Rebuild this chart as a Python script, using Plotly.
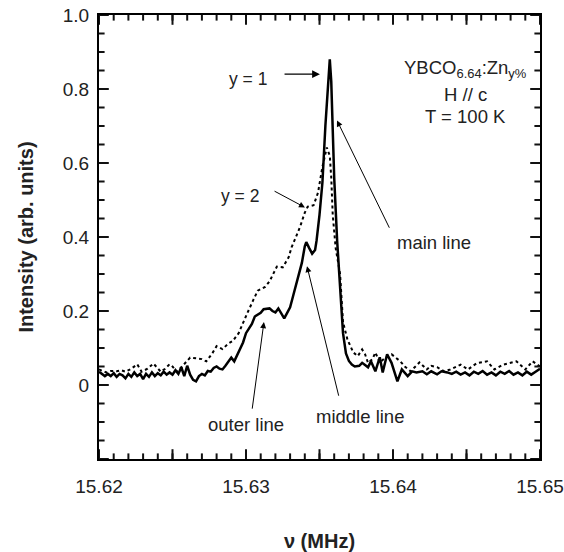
import plotly.graph_objects as go

# ---- data ----
freq_y1 = [15.6200, 15.6202, 15.6204, 15.6206, 15.6208, 15.6210, 15.6212, 15.6214, 15.6216, 15.6218,
           15.6220, 15.6222, 15.6224, 15.6226, 15.6228, 15.6230, 15.6232, 15.6234, 15.6236, 15.6238,
           15.6240, 15.6242, 15.6244, 15.6246, 15.6248, 15.6250, 15.6252, 15.6254, 15.6256, 15.6258,
           15.6260, 15.6262, 15.6264, 15.6266, 15.6268, 15.6270, 15.6272, 15.6274, 15.6276, 15.6278,
           15.6280, 15.6282, 15.6284, 15.6286, 15.6288, 15.6290, 15.6292, 15.6294, 15.6296, 15.6298,
           15.6300, 15.6302, 15.6304, 15.6306, 15.6308, 15.6310, 15.6312, 15.6314, 15.6316, 15.6318,
           15.6320, 15.6322, 15.6324, 15.6326, 15.6328, 15.6330, 15.6332, 15.6334, 15.6336, 15.6338,
           15.6340, 15.6341, 15.6343, 15.6345, 15.6347, 15.6348, 15.6350, 15.6352, 15.6354, 15.6356,
           15.6357, 15.6358, 15.6359, 15.6360, 15.6362, 15.6364, 15.6366, 15.6368, 15.6370, 15.6372,
           15.6374, 15.6377, 15.6379, 15.6381, 15.6383, 15.6385, 15.6388, 15.6391, 15.6393, 15.6396,
           15.6399, 15.6403, 15.6406, 15.6410, 15.6413, 15.6416, 15.6420, 15.6423, 15.6426, 15.6430,
           15.6433, 15.6437, 15.6440, 15.6443, 15.6446, 15.6449, 15.6452, 15.6455, 15.6458, 15.6461,
           15.6464, 15.6467, 15.6470, 15.6473, 15.6476, 15.6479, 15.6482, 15.6485, 15.6488, 15.6491,
           15.6494, 15.6497, 15.6500]
int_y1 = [0.036, 0.030, 0.024, 0.030, 0.024, 0.032, 0.022, 0.030, 0.026, 0.018,
          0.030, 0.022, 0.034, 0.024, 0.030, 0.016, 0.030, 0.022, 0.034, 0.024,
          0.032, 0.026, 0.036, 0.028, 0.034, 0.028, 0.040, 0.030, 0.048, 0.024,
          0.052, 0.028, 0.014, 0.010, 0.024, 0.030, 0.026, 0.038, 0.036, 0.046,
          0.050, 0.044, 0.042, 0.052, 0.062, 0.074, 0.064, 0.082, 0.100, 0.115,
          0.140, 0.152, 0.165, 0.185, 0.190, 0.195, 0.205, 0.207, 0.207, 0.200,
          0.196, 0.207, 0.195, 0.180, 0.195, 0.210, 0.240, 0.270, 0.294, 0.330,
          0.375, 0.386, 0.370, 0.355, 0.365, 0.390, 0.460, 0.548, 0.700, 0.830,
          0.880, 0.820, 0.660, 0.560, 0.390, 0.259, 0.140, 0.085, 0.065, 0.055,
          0.050, 0.052, 0.060, 0.054, 0.048, 0.064, 0.037, 0.075, 0.034, 0.083,
          0.060, 0.010, 0.042, 0.024, 0.037, 0.034, 0.037, 0.029, 0.037, 0.029,
          0.037, 0.034, 0.030, 0.036, 0.028, 0.034, 0.026, 0.036, 0.030, 0.038,
          0.028, 0.034, 0.026, 0.036, 0.030, 0.038, 0.028, 0.034, 0.026, 0.036,
          0.028, 0.036, 0.044]

freq_y2 = [15.6200, 15.6205, 15.6208, 15.6212, 15.6215, 15.6218, 15.6222, 15.6226, 15.6229, 15.6233,
           15.6237, 15.6242, 15.6245, 15.6248, 15.6250, 15.6253, 15.6256, 15.6259, 15.6262, 15.6266,
           15.6270, 15.6273, 15.6277, 15.6280, 15.6284, 15.6288, 15.6291, 15.6295, 15.6298, 15.6301,
           15.6305, 15.6308, 15.6313, 15.6316, 15.6321, 15.6325, 15.6329, 15.6331, 15.6335, 15.6337,
           15.6340, 15.6342, 15.6346, 15.6349, 15.6352, 15.6355, 15.6356, 15.6357, 15.6358, 15.6359,
           15.6361, 15.6363, 15.6364, 15.6366, 15.6369, 15.6373, 15.6376, 15.6379, 15.6381, 15.6383,
           15.6386, 15.6388, 15.6391, 15.6395, 15.6399, 15.6405, 15.6408, 15.6412, 15.6418, 15.6423,
           15.6426, 15.6430, 15.6435, 15.6439, 15.6446, 15.6451, 15.6457, 15.6464, 15.6469, 15.6475,
           15.6484, 15.6490, 15.6495, 15.6500]
int_y2 = [0.042, 0.034, 0.038, 0.037, 0.040, 0.036, 0.044, 0.056, 0.036, 0.044,
          0.058, 0.036, 0.044, 0.056, 0.050, 0.036, 0.048, 0.062, 0.074, 0.072,
          0.070, 0.064, 0.085, 0.105, 0.097, 0.112, 0.119, 0.140, 0.170, 0.195,
          0.230, 0.255, 0.265, 0.280, 0.320, 0.318, 0.345, 0.372, 0.410, 0.430,
          0.466, 0.482, 0.486, 0.520, 0.590, 0.642, 0.630, 0.620, 0.560, 0.460,
          0.370, 0.330, 0.300, 0.170, 0.123, 0.088, 0.078, 0.096, 0.083, 0.060,
          0.070, 0.088, 0.061, 0.075, 0.083, 0.064, 0.050, 0.037, 0.061, 0.042,
          0.052, 0.048, 0.037, 0.042, 0.055, 0.042, 0.059, 0.064, 0.042, 0.055,
          0.064, 0.042, 0.064, 0.050]

x_range = [15.62, 15.65]
y_range = [-0.2, 1.0]
x_tickvals = [15.62, 15.63, 15.64, 15.65]
x_ticktext = ["15.62", "15.63", "15.64", "15.65"]
y_tickvals = [0, 0.2, 0.4, 0.6, 0.8, 1.0]
y_ticktext = ["0", "0.2", "0.4", "0.6", "0.8", "1.0"]
# tick-mark positions (major / minor)
x_major_ticks = [15.62, 15.625, 15.63, 15.635, 15.64, 15.645, 15.65]
x_minor_ticks = [round(15.62 + 0.001 * i, 3) for i in range(31)]
y_major_ticks = [-0.2, 0.0, 0.2, 0.4, 0.6, 0.8, 1.0]
y_minor_ticks = [round(-0.2 + 0.05 * i, 2) for i in range(25)]

FONT = "Arial, Liberation Sans, sans-serif"
TXT = "#222"

fig = go.Figure()
fig.add_trace(go.Scatter(x=freq_y2, y=int_y2, mode="lines",
                         line=dict(color="black", width=2, dash="dot"), showlegend=False))
fig.add_trace(go.Scatter(x=freq_y1, y=int_y1, mode="lines",
                         line=dict(color="black", width=2.5), showlegend=False))

# inward tick marks on all four sides (line markers centred on the frame, clipped to the plot area)
def tick_marks(xs, ys, symbol, size):
    fig.add_trace(go.Scatter(x=xs, y=ys, mode="markers", showlegend=False, hoverinfo="skip",
                             cliponaxis=True,
                             marker=dict(symbol=symbol, size=size, color="#111",
                                         line=dict(color="#111", width=2))))

for yy in y_range:
    tick_marks(x_minor_ticks, [yy] * len(x_minor_ticks), "line-ns", 8)
    tick_marks(x_major_ticks, [yy] * len(x_major_ticks), "line-ns", 14)
for xx in x_range:
    tick_marks([xx] * len(y_minor_ticks), y_minor_ticks, "line-ew", 8)
    tick_marks([xx] * len(y_major_ticks), y_major_ticks, "line-ew", 14)

fig.update_layout(
    xaxis=dict(range=x_range, tickmode="array", tickvals=x_tickvals, ticktext=x_ticktext,
               showgrid=False, zeroline=False,
               ticks="outside", ticklen=9, tickcolor="rgba(0,0,0,0)",
               showline=True, linecolor="black", linewidth=2, mirror=True,
               tickfont=dict(family=FONT, size=19, color=TXT),
               automargin=False,
               title=dict(text="ν (MHz)", font=dict(family=FONT, size=20, color=TXT, weight="bold"), standoff=40)),
    yaxis=dict(range=y_range, tickmode="array", tickvals=y_tickvals, ticktext=y_ticktext,
               showgrid=False, zeroline=False,
               ticks="outside", ticklen=4, tickcolor="rgba(0,0,0,0)",
               showline=True, linecolor="black", linewidth=2, mirror=True,
               tickfont=dict(family=FONT, size=19, color=TXT),
               automargin=False,
               title=dict(text="Intensity (arb. units)", font=dict(family=FONT, size=20, color=TXT, weight="bold"), standoff=24)),
)

def arrow(xh, yh, xt_, yt_, w=1):
    fig.add_annotation(x=xh, y=yh, ax=xt_, ay=yt_, xref="x", yref="y", axref="x", ayref="y",
                       text="", showarrow=True, arrowhead=2, arrowsize=1.2, arrowwidth=w, arrowcolor="black")

def label(x, y, text, size=17.5):
    fig.add_annotation(x=x, y=y, xref="x", yref="y", text=text, showarrow=False,
                       font=dict(family=FONT, size=size, color=TXT))

label(15.63014, 0.826, "y = 1")
arrow(15.63503, 0.840, 15.63252, 0.840, 1.3)
label(15.62959, 0.512, "y = 2")
arrow(15.63401, 0.480, 15.63184, 0.526)
label(15.64279, 0.385, "main line", 18.5)
arrow(15.63619, 0.715, 15.63980, 0.421)
label(15.63776, -0.085, "middle line", 18.5)
arrow(15.63415, 0.321, 15.63633, -0.033)
label(15.63000, -0.106, "outer line", 18.5)
arrow(15.63122, 0.170, 15.63041, -0.068)

label(15.6449, 0.853, "YBCO<sub>6.64</sub>:Zn<sub>y%</sub>", 18.5)
label(15.6449, 0.786, "H // c", 18.5)
label(15.6449, 0.726, "T = 100 K", 18.5)

fig.update_layout(width=564, height=552, margin=dict(l=99, r=24, t=15, b=93),
                  plot_bgcolor="white", showlegend=False)

fig.write_html("out.html")
